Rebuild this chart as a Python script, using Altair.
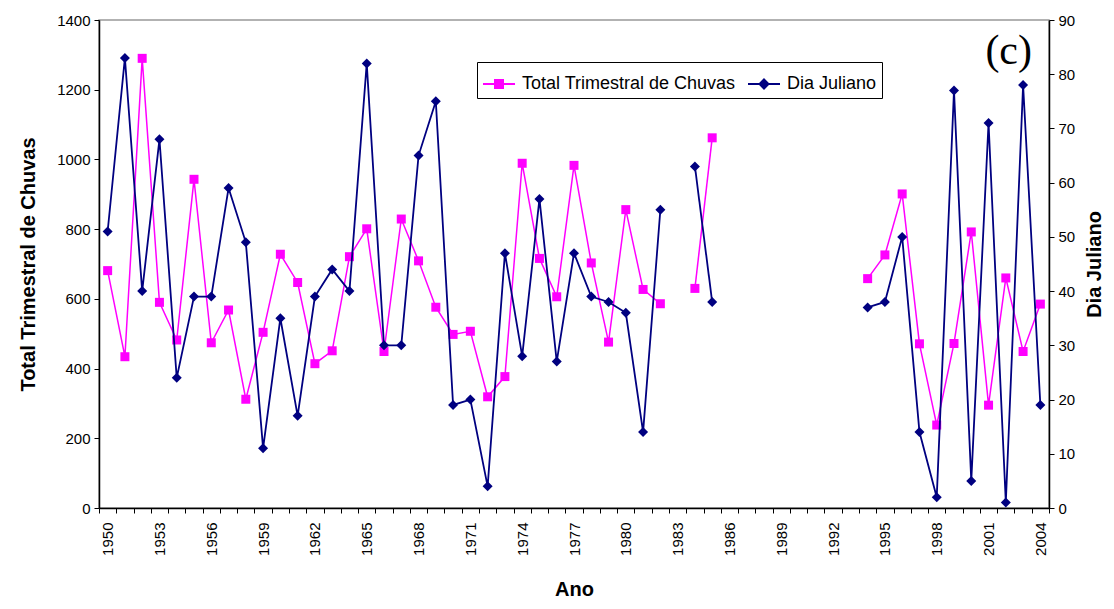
import altair as alt
import pandas as pd

# ---- data ----
anos = list(range(1950, 2005))

anos_total = list(range(1950, 1983)) + [1984, 1985] + list(range(1994, 2005))
total_chuvas = [681, 434, 1290, 590, 482, 943, 474, 568, 312, 504,
                728, 647, 414, 451, 721, 801, 449, 829, 709, 576,
                498, 507, 319, 377, 989, 716, 606, 983, 703, 476,
                856, 627, 586,
                630, 1062,
                658, 726, 901, 471, 238, 472, 792, 295, 660, 449, 585]

anos_dia = list(range(1950, 1983)) + [1984, 1985] + list(range(1994, 2005))
dia_juliano = [51, 83, 40, 68, 24, 39, 39, 59, 49, 11,
               35, 17, 39, 44, 40, 82, 30, 30, 65, 75,
               19, 20, 4, 47, 28, 57, 27, 47, 39, 38,
               36, 14, 55,
               63, 38,
               37, 38, 50, 14, 2, 77, 5, 71, 1, 78, 19]

series = ["Total Trimestral de Chuvas", "Dia Juliano"]
colors = ["#FF00FF", "#000080"]
legend_shapes = ["M-1,0H1M-0.25,-0.25H0.25V0.25H-0.25Z",
                 "M-1,0H1M0,-0.28L0.28,0L0,0.28L-0.28,0Z"]


def segments(years):
    seg, s = [], 0
    for i, y in enumerate(years):
        if i > 0 and y - years[i - 1] > 1:
            s += 1
        seg.append(s)
    return seg


df_tot = pd.DataFrame({"ano": anos_total, "valor": total_chuvas, "seg": segments(anos_total)})
df_dia = pd.DataFrame({"ano": anos_dia, "valor": dia_juliano, "seg": segments(anos_dia)})
df_leg = pd.DataFrame({"serie": series})

FONT = "Liberation Sans"

x_enc = alt.X(
    "ano:O",
    scale=alt.Scale(type="band", domain=anos, paddingInner=0, paddingOuter=0),
    axis=alt.Axis(
        title="Ano",
        tickBand="extent",
        labelAngle=270,
        labelExpr="(datum.value - 1950) % 3 == 0 ? datum.label : ''",
        labelOverlap=False,
        labelBound=False,
        labelPadding=9,
        titlePadding=24,
    ),
)

y_tot = alt.Y(
    "valor:Q",
    scale=alt.Scale(domain=[0, 1400], nice=False),
    axis=alt.Axis(title="Total Trimestral de Chuvas", orient="left", format="d",
                  values=list(range(0, 1401, 200)), titlePadding=18),
)
y_dia = alt.Y(
    "valor:Q",
    scale=alt.Scale(domain=[0, 90], nice=False),
    axis=alt.Axis(title="Dia Juliano", orient="right", titleAngle=270, format="d",
                  values=list(range(0, 91, 10)), titlePadding=30),
)

base_tot = alt.Chart(df_tot).encode(x=x_enc, y=y_tot)
tot_layer = alt.layer(
    base_tot.mark_line(color=colors[0], strokeWidth=1.5).encode(detail="seg:N"),
    base_tot.mark_point(shape="square", filled=True, size=81, color=colors[0], opacity=1),
)

base_dia = alt.Chart(df_dia).encode(x=x_enc, y=y_dia)
dia_layer = alt.layer(
    base_dia.mark_line(color=colors[1], strokeWidth=1.8).encode(detail="seg:N"),
    base_dia.mark_point(shape="diamond", filled=True, size=100, color=colors[1], opacity=1),
)

leg = alt.Legend(
    title=None, orient="none", legendX=378, legendY=42, direction="horizontal",
    strokeColor="black", fillColor="white", padding=5,
    labelFont=FONT, labelFontSize=18, labelColor="black", labelLimit=0,
    symbolSize=1024, symbolStrokeWidth=2, labelOffset=6, columnPadding=8,
)
legend_layer = (
    alt.Chart(df_leg)
    .transform_filter("false")
    .mark_point(filled=True, opacity=1)
    .encode(
        shape=alt.Shape("serie:N", scale=alt.Scale(domain=series, range=legend_shapes), legend=leg),
        fill=alt.Fill("serie:N", scale=alt.Scale(domain=series, range=colors), legend=leg),
        stroke=alt.Stroke("serie:N", scale=alt.Scale(domain=series, range=colors), legend=leg),
    )
)

chart = (
    alt.layer(tot_layer, dia_layer, legend_layer)
    .resolve_scale(y="independent")
    .properties(
        width=950,
        height=488,
        autosize=alt.AutoSizeParams(type="none"),
        padding={"left": 91, "top": 12, "right": 57, "bottom": 93},
        title=alt.Title("(c)", font="Liberation Serif", fontSize=42, fontWeight="normal",
                        anchor="end", frame="group", orient="top", baseline="top",
                        offset=0, dx=-17, dy=60, color="black"),
    )
    .configure_view(stroke="#999999", strokeWidth=1.5)
    .configure_axis(
        labelFont=FONT, labelFontSize=15, labelColor="black",
        titleFont=FONT, titleFontSize=20, titleFontWeight="bold", titleColor="black",
        domainColor="black", domainWidth=1.5, tickColor="black", tickWidth=1,
        tickSize=5, grid=False, labelPadding=4,
    )
)

chart.save("out.html", embed_options={"renderer": "svg", "actions": False})
